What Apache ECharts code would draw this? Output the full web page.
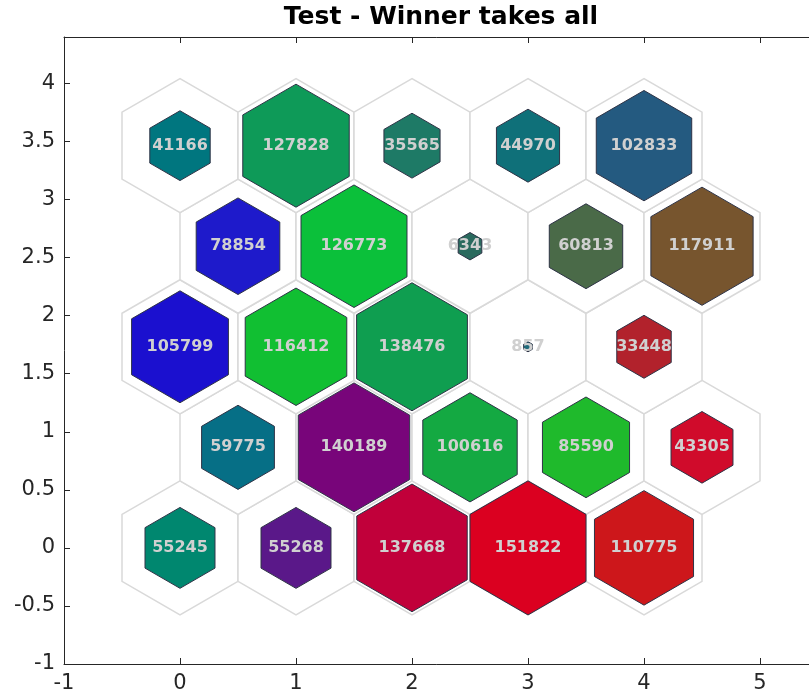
<!DOCTYPE html>
<html>
<head>
<meta charset="utf-8">
<script src="https://cdn.jsdelivr.net/npm/echarts@6/dist/echarts.min.js"></script>
<style>
  html, body { margin: 0; padding: 0; background: #ffffff; }
  #chart { width: 809px; height: 698px; }
</style>
</head>
<body>
<div id="chart"></div>
<script>
// SOM hit map: 5 x 5 hexagonal grid, rows listed from the bottom row upward.
const chartTitle = 'Test - Winner takes all';

const hitsRow0 = [55245, 55268, 137668, 151822, 110775];
const hitsRow1 = [59775, 140189, 100616, 85590, 43305];
const hitsRow2 = [105799, 116412, 138476, 857, 33448];
const hitsRow3 = [78854, 126773, 6343, 60813, 117911];
const hitsRow4 = [41166, 127828, 35565, 44970, 102833];

const colorsRow0 = ['#00876f', '#5a1889', '#c1003a', '#db0020', '#cd171b'];
const colorsRow1 = ['#066f86', '#78057a', '#14a942', '#1fba2c', '#d00b2b'];
const colorsRow2 = ['#1b10cf', '#11bf32', '#0f9e50', '#1f6a7a', '#b2222c'];
const colorsRow3 = ['#1e1acb', '#0bc03a', '#2a6a5e', '#4a6a48', '#77552e'];
const colorsRow4 = ['#00767f', '#0e9a58', '#1e7a66', '#0f7079', '#245a80'];

const hitRows = [hitsRow0, hitsRow1, hitsRow2, hitsRow3, hitsRow4];
const colorRows = [colorsRow0, colorsRow1, colorsRow2, colorsRow3, colorsRow4];

// Hexagonal topology: odd rows shifted half a cell, rows sqrt(3)/2 apart.
const ROW_STEP = Math.sqrt(3) / 2;
const CELL_R = 1 / Math.sqrt(3);

const cells = [];
hitRows.forEach(function (row, r) {
  row.forEach(function (hits, c) {
    cells.push([c + (r % 2 ? 0.5 : 0), r * ROW_STEP, hits, colorRows[r][c]]);
  });
});
const maxHits = Math.max.apply(null, cells.map(function (d) { return d[2]; }));

function hexPoints(api, cx, cy, r) {
  const pts = [];
  for (let k = 0; k < 6; k++) {
    const a = Math.PI / 2 + k * Math.PI / 3;
    pts.push(api.coord([cx + r * Math.cos(a), cy + r * Math.sin(a)]));
  }
  return pts;
}

const axisColor = '#262626';
const tickFont = { fontFamily: 'DejaVu Sans', fontSize: 21, color: axisColor };

const chart = echarts.init(document.getElementById('chart'), null, { renderer: 'canvas' });

chart.setOption({
  animation: false,
  backgroundColor: '#ffffff',
  graphic: [{
    type: 'text',
    x: 441,
    y: 17,
    style: {
      text: chartTitle,
      font: 'bold 25px "DejaVu Sans"',
      fill: '#000000',
      align: 'center',
      verticalAlign: 'middle'
    },
    z: 100
  }],
  grid: {
    left: 64, right: -9, top: 37, bottom: 34,
    containLabel: false,
    outerBoundsMode: 'none'
  },
  xAxis: [{
    type: 'value',
    position: 'bottom',
    min: -1, max: 5.5, interval: 1,
    axisLine: { show: true, onZero: false, lineStyle: { color: axisColor, width: 1 } },
    axisTick: { show: true, inside: true, length: 6, lineStyle: { color: axisColor } },
    axisLabel: Object.assign({ margin: 9, showMaxLabel: false }, tickFont),
    splitLine: { show: false }
  }, {
    type: 'value',
    position: 'top',
    min: -1, max: 5.5, interval: 1,
    axisLine: { show: true, onZero: false, lineStyle: { color: axisColor, width: 1 } },
    axisTick: { show: true, inside: true, length: 6, lineStyle: { color: axisColor } },
    axisLabel: { show: false },
    splitLine: { show: false }
  }],
  yAxis: [{
    type: 'value',
    min: -1, max: 4.4, interval: 0.5,
    axisLine: { show: true, onZero: false, lineStyle: { color: axisColor, width: 1 } },
    axisTick: { show: true, inside: true, length: 6, lineStyle: { color: axisColor } },
    axisLabel: Object.assign({ margin: 9, showMaxLabel: false }, tickFont),
    splitLine: { show: false }
  }],
  series: [{
    // neuron outlines
    type: 'custom',
    name: 'grid',
    xAxisIndex: 0, yAxisIndex: 0,
    data: cells,
    z: 2,
    renderItem: function (params, api) {
      return {
        type: 'polygon',
        shape: { points: hexPoints(api, api.value(0), api.value(1), CELL_R) },
        style: { fill: '#ffffff', stroke: '#d9d9d9', lineWidth: 1.5 }
      };
    }
  }, {
    // hit hexagons, area proportional to hit count
    type: 'custom',
    name: 'hits',
    xAxisIndex: 0, yAxisIndex: 0,
    data: cells,
    z: 3,
    renderItem: function (params, api) {
      const d = cells[params.dataIndex];
      const r = CELL_R * Math.sqrt(api.value(2) / maxHits);
      return {
        type: 'polygon',
        shape: { points: hexPoints(api, api.value(0), api.value(1), r) },
        style: { fill: d[3], stroke: '#2e3346', lineWidth: 1 }
      };
    }
  }, {
    // hit counts
    type: 'custom',
    name: 'labels',
    xAxisIndex: 0, yAxisIndex: 0,
    data: cells,
    z: 4,
    renderItem: function (params, api) {
      const p = api.coord([api.value(0), api.value(1)]);
      return {
        type: 'text',
        x: p[0],
        y: p[1],
        style: {
          text: String(api.value(2)),
          fill: '#d0d0d0',
          font: 'bold 16px "DejaVu Sans"',
          align: 'center',
          verticalAlign: 'middle'
        }
      };
    }
  }]
});
</script>
</body>
</html>
